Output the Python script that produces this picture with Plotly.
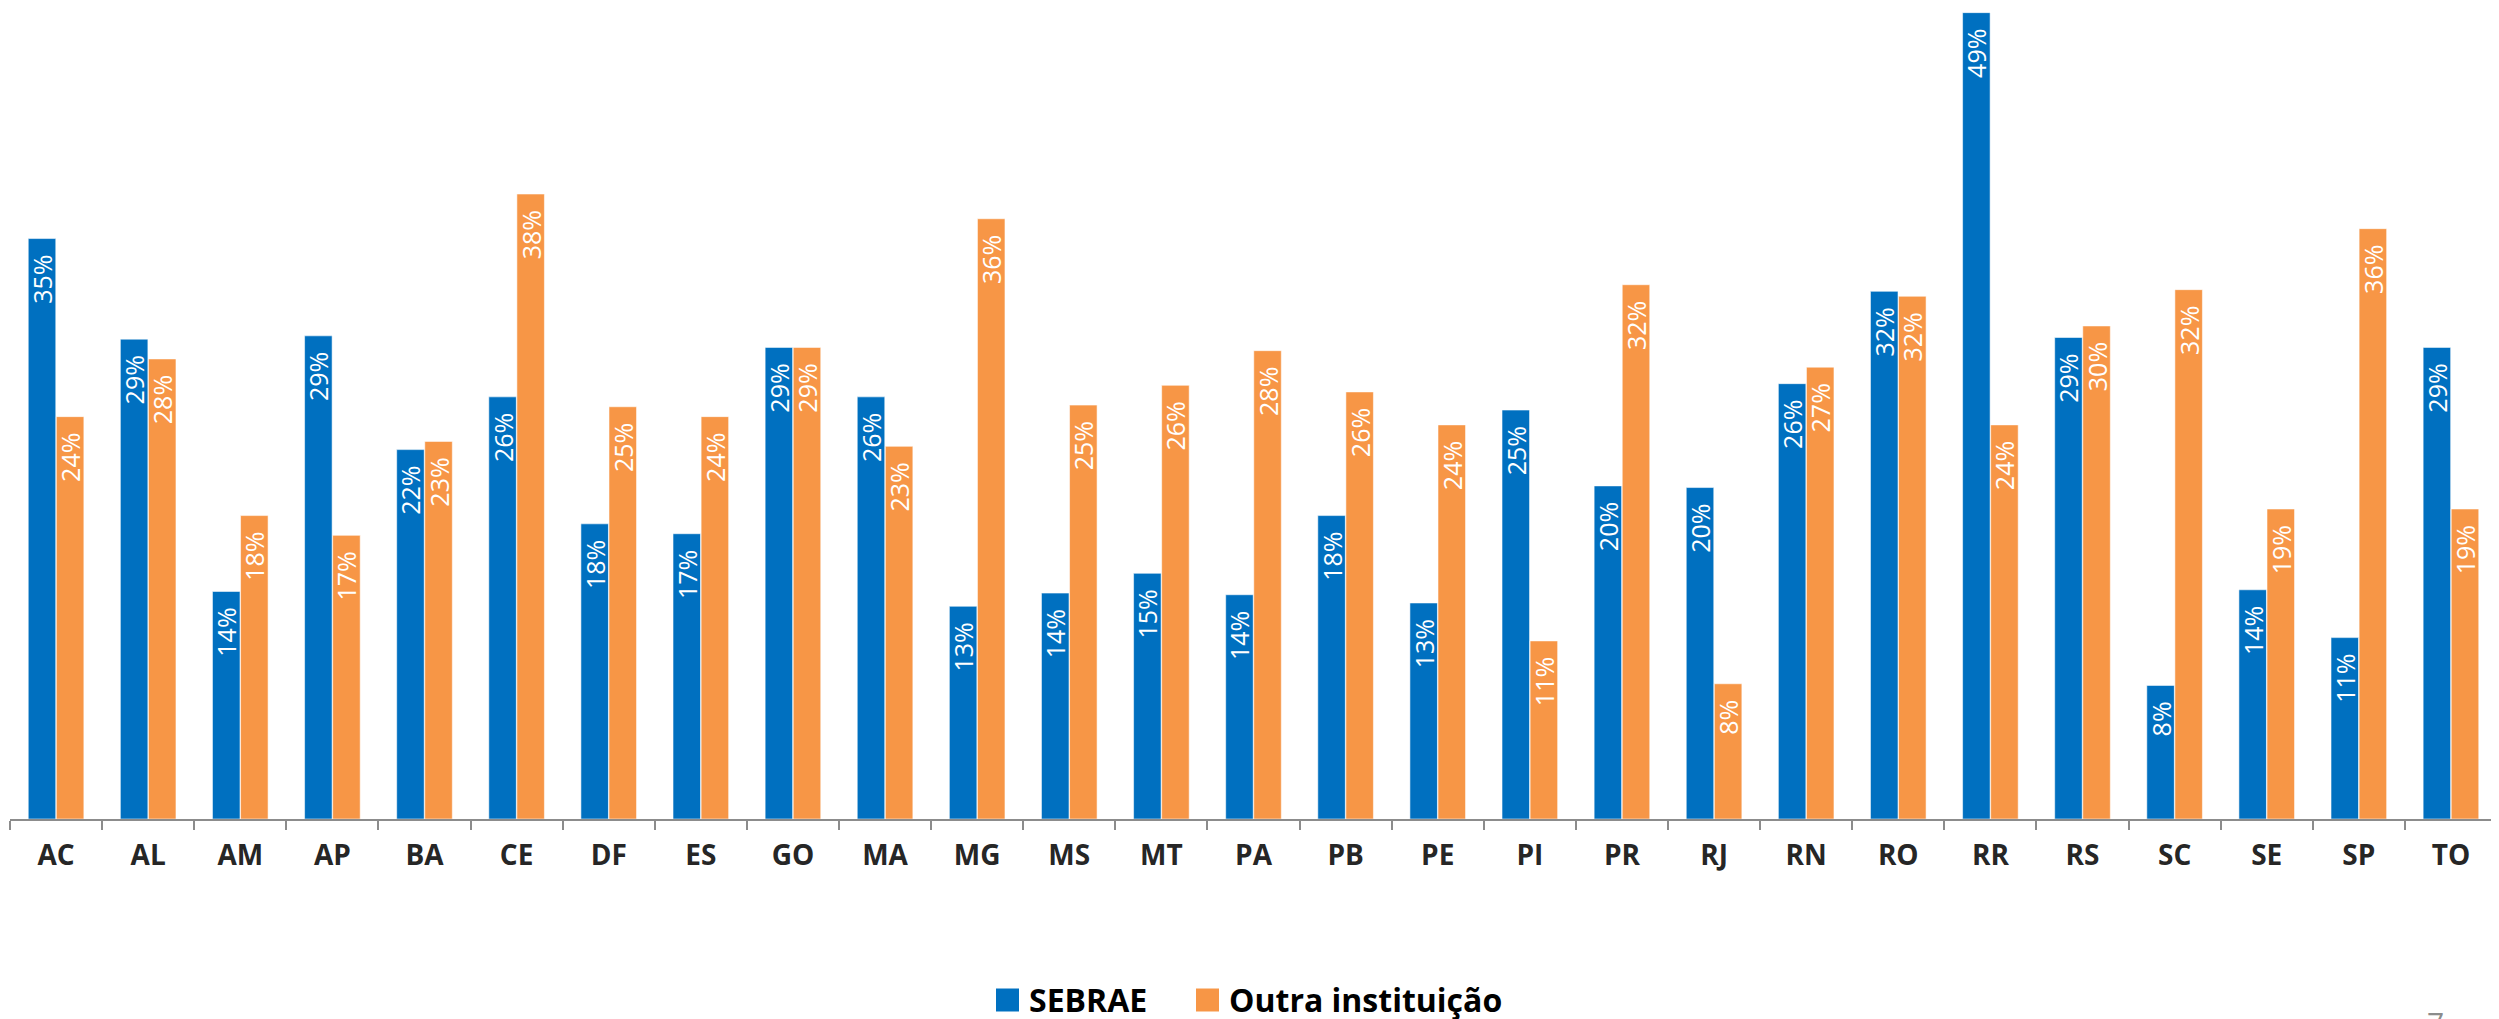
import plotly.graph_objects as go

states = ["AC", "AL", "AM", "AP", "BA", "CE", "DF", "ES", "GO", "MA", "MG", "MS", "MT", "PA",
          "PB", "PE", "PI", "PR", "RJ", "RN", "RO", "RR", "RS", "SC", "SE", "SP", "TO"]
sebrae = [35.2, 29.1, 13.8, 29.3, 22.4, 25.6, 17.9, 17.3, 28.6, 25.6, 12.9, 13.7, 14.9, 13.6,
          18.4, 13.1, 24.8, 20.2, 20.1, 26.4, 32.0, 48.9, 29.2, 8.1, 13.9, 11.0, 28.6]
outra = [24.4, 27.9, 18.4, 17.2, 22.9, 37.9, 25.0, 24.4, 28.6, 22.6, 36.4, 25.1, 26.3, 28.4,
         25.9, 23.9, 10.8, 32.4, 8.2, 27.4, 31.7, 23.9, 29.9, 32.1, 18.8, 35.8, 18.8]
series_names = ["SEBRAE", "Outra instituição"]
colors = ["#0070C0", "#F79646"]

# page is offset by the browser's default 8px body margin
OFF = 8
W, H = 2499 - OFF, 1019 - OFF
L, R, T = 2, 2, 0
AXIS_Y = 819            # page y of the category axis
PLOT_H = AXIS_Y - OFF - T
B = H - T - PLOT_H
PLOT_W = W - L - R

def px(xpage):
    return (xpage - OFF - L) / PLOT_W

def py(ypage):
    return (AXIS_Y - ypage) / PLOT_H

FONT_T = "Open Sans, sans-serif"

fig = go.Figure()
for name, vals, col in zip(series_names, [sebrae, outra], colors):
    fig.add_trace(go.Bar(
        x=states, y=vals, name=name,
        marker=dict(color=col, line=dict(color="rgba(255,255,255,0.55)", width=1)),
        texttemplate="%{y:.0f}%\u00a0\u00a0",
        textposition="inside", insidetextanchor="end", textangle=-90,
        constraintext="none",
        insidetextfont=dict(family=FONT_T, size=25, color="white"),
        showlegend=False,
    ))

fig.update_layout(
    width=W, height=H,
    margin=dict(l=L, r=R, t=T, b=B, autoexpand=False),
    paper_bgcolor="white", plot_bgcolor="white",
    barmode="group", bargap=0.39, bargroupgap=0.02,
    xaxis=dict(
        showline=True, linecolor="#8C8C8C", linewidth=2,
        ticks="outside", ticklen=9, tickcolor="#8C8C8C", tickwidth=2,
        tickson="boundaries", showgrid=False,
        tickfont=dict(family=FONT_T, size=28, color="#262626", weight="bold"),
        ticklabelstandoff=10,
    ),
    yaxis=dict(range=[0, PLOT_H / 16.49], visible=False, showgrid=False, zeroline=False),
)

# legend drawn manually (large square swatches)
leg_y = 1000
items = [(996, 1019, 1027, series_names[0], colors[0]), (1196, 1219, 1227, series_names[1], colors[1])]
for x0, x1, tx, name, col in items:
    fig.add_shape(type="rect", xref="paper", yref="paper",
                  x0=px(x0), x1=px(x1), y0=py(leg_y + 11.5), y1=py(leg_y - 11.5),
                  fillcolor=col, line=dict(width=0))
    fig.add_annotation(xref="paper", yref="paper", x=px(tx), y=py(leg_y - 1),
                       xanchor="left", yanchor="middle", showarrow=False, text=name,
                       font=dict(family=FONT_T, size=32, color="black", weight="bold"))

fig.add_annotation(xref="paper", yref="paper", x=px(2435), y=py(1000),
                   xanchor="center", yanchor="top", showarrow=False, text="7",
                   font=dict(family=FONT_T, size=30, color="#8C8C8C"))

fig.write_html("out.html")
